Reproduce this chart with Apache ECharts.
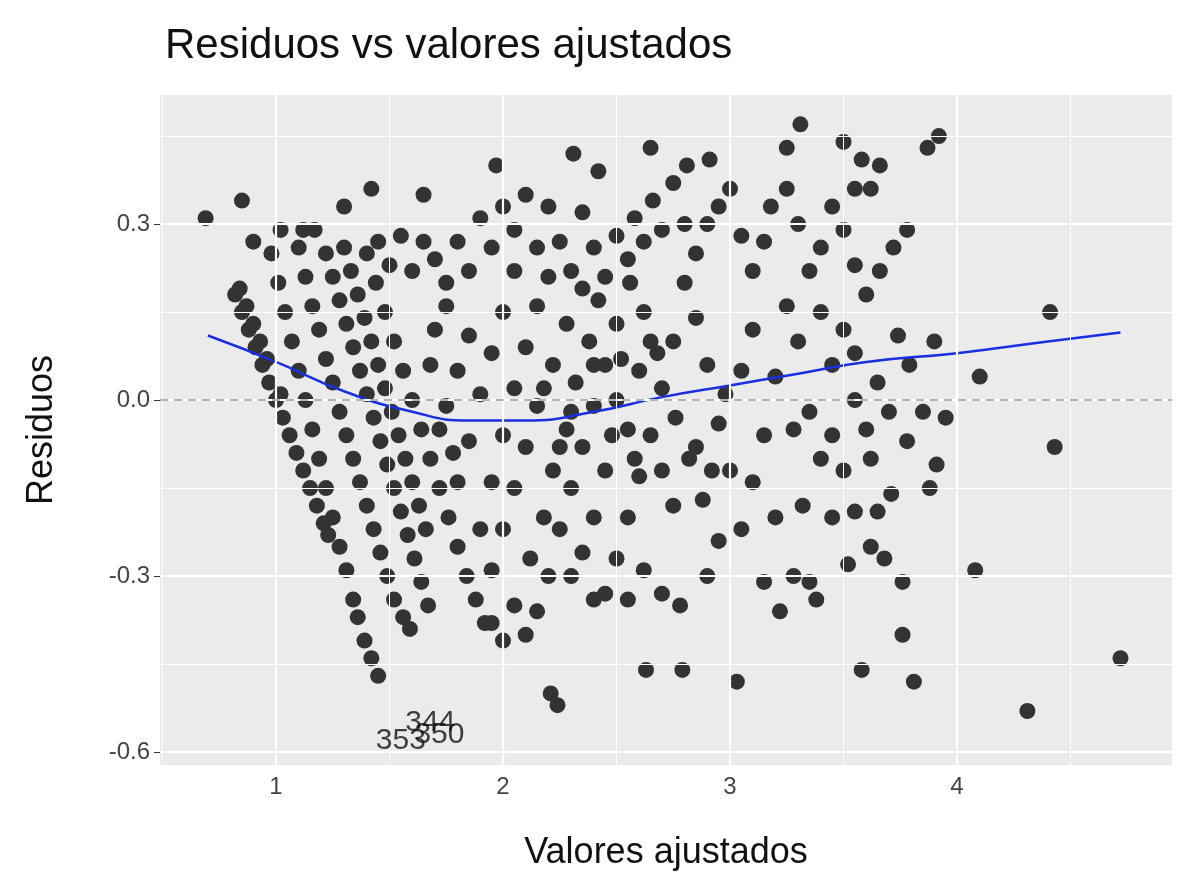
<!DOCTYPE html>
<html>
<head>
<meta charset="utf-8">
<script src="https://cdn.jsdelivr.net/npm/echarts@6/dist/echarts.min.js"></script>
<style>html,body{margin:0;background:#fff}#main{width:1195px;height:896px}</style>
</head>
<body>
<div id="main"></div>
<script>
// residuos [ajustado, residuo]
var streaks = [
  [0.82,0.18],[0.84,0.19],[0.85,0.15],[0.87,0.16],[0.88,0.12],[0.9,0.13],[0.91,0.09],[0.93,0.1],[0.94,0.06],[0.96,0.07],[0.97,0.03],[1.0,0.0],[1.02,0.01],[1.03,-0.03],[1.06,-0.06],[1.09,-0.09],[1.12,-0.12],[1.15,-0.15],[1.18,-0.18],[1.21,-0.21],[1.23,-0.23],
  [0.98,0.25],[1.01,0.2],[1.04,0.15],[1.07,0.1],[1.1,0.05],[1.13,0.0],[1.16,-0.05],[1.19,-0.1],[1.22,-0.15],[1.25,-0.2],[1.28,-0.25],[1.31,-0.29],[1.34,-0.34],[1.36,-0.37],[1.39,-0.41],[1.42,-0.44],[1.45,-0.47],
  [1.1,0.26],[1.13,0.21],[1.16,0.16],[1.19,0.12],[1.22,0.07],[1.25,0.03],[1.28,-0.02],[1.31,-0.06],[1.34,-0.1],[1.37,-0.14],[1.4,-0.18],[1.43,-0.22],[1.46,-0.26],[1.49,-0.3],[1.52,-0.34],[1.56,-0.37],[1.59,-0.39],
  [1.22,0.25],[1.25,0.21],[1.28,0.17],[1.31,0.13],[1.34,0.09],[1.37,0.05],[1.4,0.01],[1.43,-0.03],[1.46,-0.07],[1.49,-0.11],[1.52,-0.15],[1.55,-0.19],[1.58,-0.23],[1.61,-0.27],[1.64,-0.31],[1.67,-0.35],
  [1.4,0.25],[1.44,0.2],[1.48,0.15],[1.52,0.1],[1.56,0.05],[1.6,0.0],[1.64,-0.05],[1.68,-0.1],[1.72,-0.15],[1.76,-0.2],[1.8,-0.25],[1.84,-0.3],[1.88,-0.34],[1.92,-0.38],
  [1.3,0.26],[1.33,0.22],[1.36,0.18],[1.39,0.14],[1.42,0.1],[1.45,0.06],[1.48,0.02],[1.51,-0.02],[1.54,-0.06],[1.57,-0.1],[1.6,-0.14],[1.63,-0.18],[1.66,-0.22]
];
var cloud = [
  [0.69,0.31],[0.85,0.34],[0.9,0.27],[1.02,0.29],[1.12,0.29],[1.17,0.29],[1.3,0.33],[1.42,0.36],[1.65,0.35],[1.97,0.4],[2.31,0.42],[2.42,0.39],[2.65,0.43],[2.81,0.4],[2.91,0.41],[3.25,0.43],[3.31,0.47],[3.5,0.44],[3.58,0.41],[3.66,0.4],[3.87,0.43],[3.92,0.45],
  [4.41,0.15],[4.1,0.04],[4.43,-0.08],[4.08,-0.29],[4.72,-0.44],[4.31,-0.53],[3.81,-0.48],[3.58,-0.46],[3.76,-0.4],[3.03,-0.48],[2.79,-0.46],[2.63,-0.46],[2.21,-0.5],[2.24,-0.52],
  [3.91,-0.11],[3.95,-0.03],[3.9,0.1],[3.79,0.06],[3.78,-0.07],[3.71,-0.16],[3.76,-0.31],[3.68,-0.27],[3.74,0.11],[3.78,0.29],[3.72,0.26],[3.66,0.22],[3.6,0.18],[3.55,0.23],[3.62,0.36],[3.55,0.36],[3.5,0.29],[3.45,0.33],[3.4,0.26],[3.35,0.22],[3.3,0.3],[3.25,0.36],[3.18,0.33],[3.15,0.27],[3.1,0.22],[3.05,0.28],[3.0,0.36],[2.95,0.33],[2.9,0.3],[2.85,0.25],[2.8,0.3],[2.75,0.37],[2.7,0.29],[2.66,0.34],[2.62,0.27],[2.58,0.31],[2.55,0.24],[2.5,0.28],[2.45,0.21],[2.4,0.26],[2.35,0.32],[2.3,0.22],[2.25,0.27],[2.2,0.33],[2.15,0.26],[2.1,0.35],[2.05,0.29],[2.0,0.33],[1.95,0.26],[1.9,0.31],[1.85,0.22],[1.8,0.27],[1.75,0.2],[1.7,0.24],[1.65,0.27],[1.6,0.22],[1.55,0.28],[1.5,0.23],[1.45,0.27],
  [3.5,0.12],[3.45,0.06],[3.55,0.0],[3.6,-0.05],[3.5,-0.12],[3.55,-0.19],[3.62,-0.25],[3.45,-0.2],[3.4,-0.1],[3.35,-0.02],[3.3,0.1],[3.25,0.16],[3.2,0.04],[3.15,-0.06],[3.1,-0.14],[3.2,-0.2],[3.28,-0.3],[3.35,-0.31],[3.38,-0.34],[3.22,-0.36],[3.15,-0.31],[3.05,-0.22],[3.0,-0.12],[2.95,-0.04],[2.9,0.06],[2.85,0.14],[2.8,0.2],[2.75,0.1],[2.7,0.02],[2.65,-0.06],[2.6,-0.13],[2.55,-0.2],[2.5,-0.27],[2.45,-0.33],[2.4,-0.34],[2.55,-0.34],[2.62,-0.29],[2.7,-0.33],[2.78,-0.35],[2.9,-0.3],[2.95,-0.24],[2.88,-0.17],[2.82,-0.1],[2.76,-0.03],[2.68,0.08],[2.62,0.15],[2.56,0.2],[2.5,0.13],[2.45,0.06],[2.4,-0.01],[2.35,-0.08],[2.3,-0.15],[2.25,-0.22],[2.2,-0.3],[2.15,-0.36],[2.1,-0.4],[2.0,-0.41],[1.95,-0.38],[2.05,-0.35],[2.12,-0.27],[2.18,-0.2],[2.22,-0.12],[2.28,-0.05],[2.32,0.03],[2.38,0.1],[2.42,0.17],[2.35,0.19],[2.28,0.13],[2.22,0.06],[2.15,-0.01],[2.1,-0.08],[2.05,-0.15],[2.0,-0.22],[1.95,-0.29],[1.9,-0.22],[1.95,-0.14],[2.0,-0.06],[2.05,0.02],[2.1,0.09],[2.15,0.16],[2.2,0.21],[2.05,0.22],[2.0,0.15],[1.95,0.08],[1.9,0.01],[1.85,-0.07],[1.8,-0.14],[1.85,0.11],[1.8,0.05],[1.75,-0.01],[1.7,0.12],[1.75,0.16],[1.68,0.06],[1.72,-0.05],[1.78,-0.09],
  [2.5,0.0],[2.55,-0.05],[2.6,0.05],[2.65,0.1],[2.7,-0.12],[2.75,-0.18],[2.85,-0.08],[2.92,-0.12],[2.98,0.01],[3.05,0.05],[3.1,0.12],[2.45,-0.12],[2.4,-0.2],[2.35,-0.26],[2.3,-0.3],[2.25,-0.08],[2.3,-0.02],[2.18,0.02],[2.4,0.06],[2.48,-0.06],[2.58,-0.1],[2.52,0.07],[3.4,0.15],[3.45,-0.06],[3.55,0.08],[3.65,0.03],[3.62,-0.1],[3.7,-0.02],[3.85,-0.02],[3.88,-0.15],[3.65,-0.19],[3.52,-0.28],[3.28,-0.05],[3.32,-0.18]
];
var labelPts = [[1.68,-0.55,'344'],[1.72,-0.57,'350'],[1.55,-0.58,'353']];
var smoothX = [0.7,1.0,1.3,1.6,1.85,2.1,2.4,2.7,3.0,3.3,3.6,4.0,4.4,4.72];
var smoothY = [0.11,0.065,0.015,-0.02,-0.035,-0.035,-0.02,0.005,0.025,0.045,0.065,0.08,0.1,0.115];
var xTicks = [1, 2, 3, 4];
var yTicks = [-0.6, -0.3, 0, 0.3];
var xMinor = [0.5, 1.5, 2.5, 3.5, 4.5];
var yMinor = [-0.45, -0.15, 0.15, 0.45];

var points = streaks.concat(cloud);
var smooth = smoothX.map(function (x, i) { return [x, smoothY[i]]; });
var myChart = echarts.init(document.getElementById('main'));

function gl(vals, key, w) {
  return vals.map(function (v) { var o = {lineStyle: {color: '#fff', width: w, type: 'solid'}}; o[key] = v; return o; });
}
var gridMarks = gl(xTicks, 'xAxis', 2.2).concat(gl(yTicks, 'yAxis', 2.2), gl(xMinor, 'xAxis', 1), gl(yMinor, 'yAxis', 1));

option = {
  backgroundColor: '#fff',
  title: {text: 'Residuos vs valores ajustados', left: 160, top: 20,
    textStyle: {fontFamily: 'Liberation Sans', fontSize: 42, fontWeight: 'normal', color: '#111'}},
  grid: {left: 160, right: 23, top: 95, bottom: 131, backgroundColor: '#EBEBEB', show: true, borderWidth: 0},
  xAxis: {type: 'value', min: 0.489, max: 4.947,
    name: 'Valores ajustados', nameLocation: 'middle', nameGap: 70,
    nameTextStyle: {fontSize: 36, color: '#111', fontFamily: 'Liberation Sans'},
    axisLine: {show: false},
    axisTick: {show: true, customValues: xTicks, length: 6, lineStyle: {color: '#333'}},
    axisLabel: {customValues: xTicks, fontSize: 24, color: '#444', margin: 10},
    splitLine: {show: false}},
  yAxis: {type: 'value', min: -0.622, max: 0.52,
    name: 'Residuos', nameLocation: 'middle', nameGap: 100,
    nameTextStyle: {fontSize: 36, color: '#111', fontFamily: 'Liberation Sans'},
    axisLine: {show: false},
    axisTick: {show: true, customValues: yTicks, length: 6, lineStyle: {color: '#333'}},
    axisLabel: {customValues: yTicks, fontSize: 24, color: '#444', margin: 10,
      formatter: function (v) { return v.toFixed(1); }},
    splitLine: {show: false}},
  series: [
    {type: 'line', data: [], silent: true, z: 1,
      markLine: {silent: true, symbol: 'none', label: {show: false}, data: gridMarks}},
    {type: 'scatter', data: points, symbolSize: 16, itemStyle: {color: '#333', opacity: 1}, z: 3,
      markLine: {silent: true, symbol: 'none', label: {show: false},
        lineStyle: {color: '#999', type: [8, 6], width: 1.5}, data: [{yAxis: 0}]}},
    {type: 'line', data: smooth, smooth: true, showSymbol: false, lineStyle: {color: '#1a2fe0', width: 2.5}, z: 4},
    {type: 'scatter', data: labelPts, symbolSize: 1, itemStyle: {color: 'rgba(0,0,0,0)'}, z: 5,
      label: {show: true, position: 'inside', formatter: function (p) { return p.data[2]; }, fontSize: 30, color: '#111'}}
  ]
};
myChart.setOption(option);
</script>
</body>
</html>
